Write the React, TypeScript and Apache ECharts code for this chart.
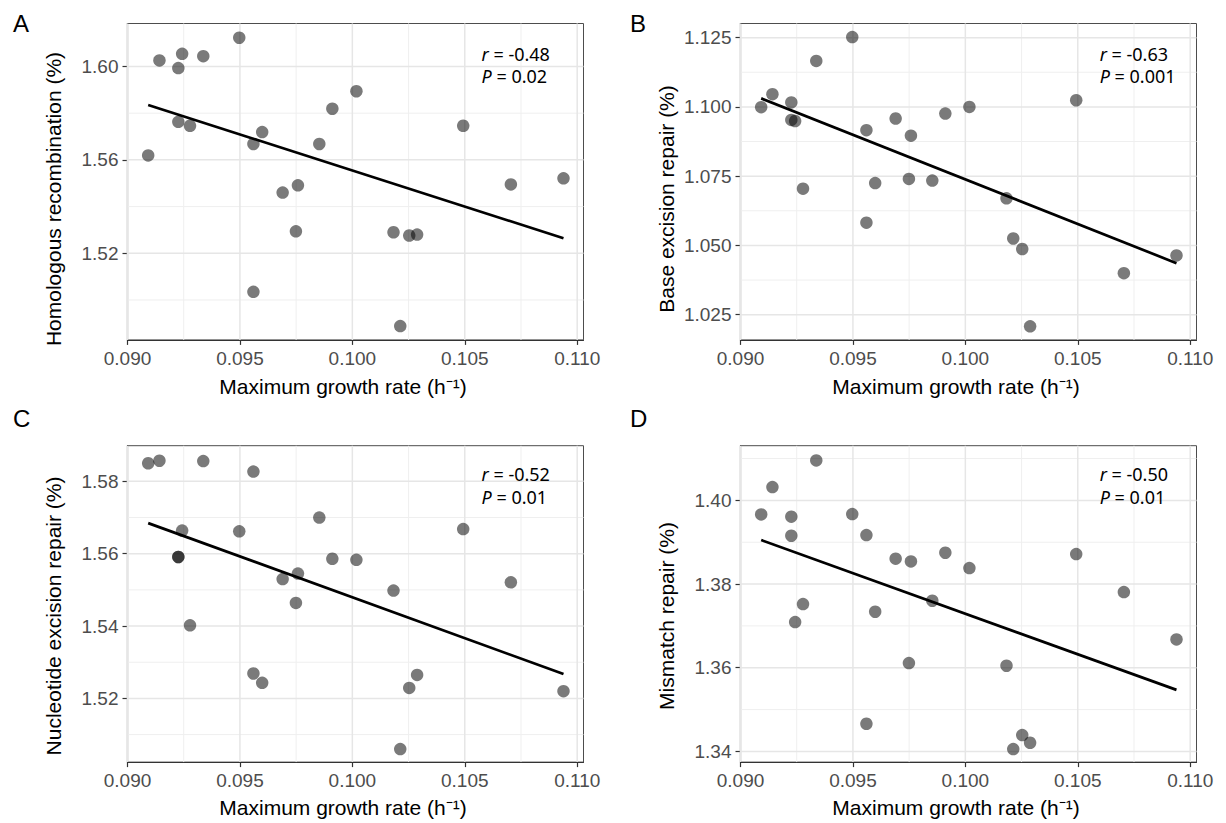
import React, { useEffect, useRef } from "react";
import * as echarts from "echarts";

// Shared x values: maximum growth rate (h^-1)
const growthRate = [0.09092, 0.09142, 0.09226, 0.09226, 0.09243, 0.09278, 0.09337, 0.09497, 0.0956, 0.0956, 0.09599, 0.0969, 0.09749, 0.09758, 0.09853, 0.09911, 0.10018, 0.10183, 0.10213, 0.10253, 0.10288, 0.10493, 0.10705, 0.10939];

const homologous = [1.5619, 1.6026, 1.5993, 1.5763, 1.6054, 1.5746, 1.6044, 1.6123, 1.5668, 1.5035, 1.5719, 1.546, 1.5294, 1.5491, 1.5668, 1.5819, 1.5894, 1.529, 1.4888, 1.5276, 1.528, 1.5746, 1.5495, 1.5521];
const baseExcision = [1.0999, 1.1046, 1.1016, 1.0953, 1.0949, 1.0705, 1.1166, 1.1252, 1.0916, 1.0582, 1.0725, 1.0958, 1.074, 1.0896, 1.0734, 1.0976, 1.1, 1.067, 1.0525, 1.0487, 1.0208, 1.1024, 1.04, 1.0464];
const nucleotideExcision = [1.585, 1.5857, 1.5591, 1.5591, 1.5664, 1.5402, 1.5856, 1.5662, 1.5827, 1.5269, 1.5243, 1.553, 1.5464, 1.5545, 1.57, 1.5586, 1.5583, 1.5498, 1.506, 1.5229, 1.5265, 1.5668, 1.5521, 1.522];
const mismatch = [1.39665, 1.40319, 1.3961, 1.39155, 1.37092, 1.37522, 1.40956, 1.39673, 1.39171, 1.34661, 1.37339, 1.38606, 1.36112, 1.38542, 1.37602, 1.38749, 1.38382, 1.36048, 1.34056, 1.3439, 1.34207, 1.38717, 1.37809, 1.36677];

const xTicks = [0.09, 0.095, 0.1, 0.105, 0.11];
const xMinor = [0.0925, 0.0975, 0.1025, 0.1075];
const xRange = [0.09, 0.11028];

const yTicksA = [1.52, 1.56, 1.6];
const yMinorA = [1.5, 1.54, 1.58];
const yRangeA = [1.4829, 1.6184];
const yTicksB = [1.025, 1.05, 1.075, 1.1, 1.125];
const yMinorB = [1.0375, 1.0625, 1.0875, 1.1125];
const yRangeB = [1.0159, 1.1301];
const yTicksC = [1.52, 1.54, 1.56, 1.58];
const yMinorC = [1.51, 1.53, 1.55, 1.57];
const yRangeC = [1.5024, 1.58986];
const yTicksD = [1.34, 1.36, 1.38, 1.4];
const yMinorD = [1.35, 1.37, 1.39, 1.41];
const yRangeD = [1.33745, 1.41307];

const panelLetters = ["A", "B", "C", "D"];
const yTitles = ["Homologous recombination (%)", "Base excision repair (%)", "Nucleotide excision repair (%)", "Mismatch repair (%)"];
const xTitle = "Maximum growth rate (h\u207B\u00B9)";
const rValues = ["-0.48", "-0.63", "-0.52", "-0.50"];
const pValues = ["0.02", "0.001", "0.01", "0.01"];

const FONT = "'Liberation Sans', Arial, Helvetica, sans-serif";
const ANNOT_FONT = "'Noto Sans', 'Liberation Sans', sans-serif";

function fitLine(xs: number[], ys: number[]) {
  const n = xs.length;
  const mx = xs.reduce((a, b) => a + b, 0) / n;
  const my = ys.reduce((a, b) => a + b, 0) / n;
  let sxy = 0;
  let sxx = 0;
  for (let i = 0; i < n; i++) {
    sxy += (xs[i] - mx) * (ys[i] - my);
    sxx += (xs[i] - mx) * (xs[i] - mx);
  }
  const b = sxy / sxx;
  const a = my - b * mx;
  const x0 = Math.min(...xs);
  const x1 = Math.max(...xs);
  return [
    [x0, a + b * x0],
    [x1, a + b * x1],
  ];
}

export default function App() {
  const ref = useRef<HTMLDivElement>(null);

  useEffect(() => {
    if (!ref.current) return;
    const chart = echarts.init(ref.current, undefined, { renderer: "svg" });

    const ySets = [homologous, baseExcision, nucleotideExcision, mismatch];
    const yTicks = [yTicksA, yTicksB, yTicksC, yTicksD];
    const yMinors = [yMinorA, yMinorB, yMinorC, yMinorD];
    const yRanges = [yRangeA, yRangeB, yRangeC, yRangeD];
    const yDigits = [2, 3, 2, 2];

    const lefts = [127.5, 740.5, 127.5, 740.5];
    const tops = [23.5, 23.5, 445.7, 445.7];
    const W = 456;
    const H = 316.4;

    const grids: any[] = [];
    const xAxes: any[] = [];
    const yAxes: any[] = [];
    const series: any[] = [];
    const graphics: any[] = [];

    const minorStyle = { color: "#efefef", width: 1, type: "solid" };
    const majorStyle = { color: "#e6e6e6", width: 1.5, type: "solid" };

    for (let i = 0; i < 4; i++) {
      grids.push({
        left: lefts[i],
        top: tops[i],
        width: W,
        height: H,
        show: true,
        borderColor: "#4d4d4d",
        borderWidth: 1,
        backgroundColor: "transparent",
        containLabel: false,
      });
      xAxes.push({
        type: "value",
        gridIndex: i,
        min: xRange[0],
        max: xRange[1],
        splitLine: { show: false },
        axisLine: { show: true, onZero: false, lineStyle: { color: "#333", width: 1.2 } },
        axisTick: { show: true, length: 5, customValues: xTicks, lineStyle: { color: "#333", width: 1.2 } },
        axisLabel: {
          customValues: xTicks,
          formatter: (v: number) => v.toFixed(3),
          color: "#4d4d4d",
          fontSize: 19,
          fontFamily: FONT,
          margin: 9,
        },
      });
      const dg = yDigits[i];
      const yr = yRanges[i];
      yAxes.push({
        type: "value",
        gridIndex: i,
        min: yr[0],
        max: yr[1],
        splitLine: { show: false },
        axisLine: { show: true, onZero: false, lineStyle: { color: "#333", width: 1.2 } },
        axisTick: { show: true, length: 5, customValues: yTicks[i], lineStyle: { color: "#333", width: 1.2 } },
        axisLabel: {
          customValues: yTicks[i],
          formatter: (v: number) => v.toFixed(dg),
          color: "#4d4d4d",
          fontSize: 19,
          fontFamily: FONT,
          margin: 9,
        },
      });

      const addGrid = (pts: number[][], style: any) => {
        series.push({
          type: "line",
          xAxisIndex: i,
          yAxisIndex: i,
          data: pts,
          symbol: "none",
          silent: true,
          lineStyle: style,
          z: 1,
        });
      };
      xMinor.forEach((v) => addGrid([[v, yr[0]], [v, yr[1]]], minorStyle));
      yMinors[i].forEach((v) => addGrid([[xRange[0], v], [xRange[1], v]], minorStyle));
      xTicks.forEach((v) => addGrid([[v, yr[0]], [v, yr[1]]], majorStyle));
      yTicks[i].forEach((v) => addGrid([[xRange[0], v], [xRange[1], v]], majorStyle));

      const pts = growthRate.map((x, k) => [x, ySets[i][k]]);
      series.push({
        type: "scatter",
        xAxisIndex: i,
        yAxisIndex: i,
        data: pts,
        symbolSize: 12.5,
        itemStyle: { color: "rgba(0,0,0,0.65)" },
        z: 3,
      });
      series.push({
        type: "line",
        xAxisIndex: i,
        yAxisIndex: i,
        data: fitLine(growthRate, ySets[i]),
        symbol: "none",
        lineStyle: { color: "#000", width: 2.7 },
        z: 4,
      });

      const ox = i % 2 === 0 ? 0 : 613;
      const isTop = i < 2;
      graphics.push({
        type: "text",
        z: 100,
        x: 13 + ox + (i % 2 === 0 ? 0 : 4),
        y: isTop ? 23.5 : 418.5,
        style: { text: panelLetters[i], fontSize: 24, fontFamily: FONT, fill: "#000", align: "left", verticalAlign: "middle" },
      });
      graphics.push({
        type: "text",
        z: 100,
        x: 53 + ox,
        y: isTop ? 199 : 616,
        rotation: Math.PI / 2,
        style: { text: yTitles[i], fontSize: 21, fontFamily: FONT, fill: "#000", align: "center", verticalAlign: "middle" },
      });
      graphics.push({
        type: "text",
        z: 100,
        x: 343 + ox,
        y: isTop ? 386 : 807,
        style: { text: xTitle, fontSize: 21, fontFamily: FONT, fill: "#000", align: "center", verticalAlign: "middle" },
      });
      const ax = i % 2 === 0 ? 481.6 : 1099.7;
      graphics.push({
        type: "text",
        z: 100,
        x: ax,
        y: isTop ? 53.5 : 474,
        style: {
          text: "{i|r} = " + rValues[i],
          fontSize: 18,
          fontFamily: ANNOT_FONT,
          fill: "#000",
          align: "left",
          verticalAlign: "middle",
          rich: { i: { fontStyle: "italic", fontSize: 18, fontFamily: ANNOT_FONT } },
        },
      });
      graphics.push({
        type: "text",
        z: 100,
        x: ax,
        y: isTop ? 75.5 : 496.5,
        style: {
          text: "{i|P} = " + pValues[i],
          fontSize: 18,
          fontFamily: ANNOT_FONT,
          fill: "#000",
          align: "left",
          verticalAlign: "middle",
          rich: { i: { fontStyle: "italic", fontSize: 18, fontFamily: ANNOT_FONT } },
        },
      });
    }

    chart.setOption({
      animation: false,
      backgroundColor: "#fff",
      grid: grids,
      xAxis: xAxes,
      yAxis: yAxes,
      series,
      graphic: graphics,
    });

    return () => {
      chart.dispose();
    };
  }, []);

  return (
    <div
      ref={ref}
      style={{ position: "absolute", left: 0, top: 0, width: 1226, height: 823 }}
    />
  );
}
